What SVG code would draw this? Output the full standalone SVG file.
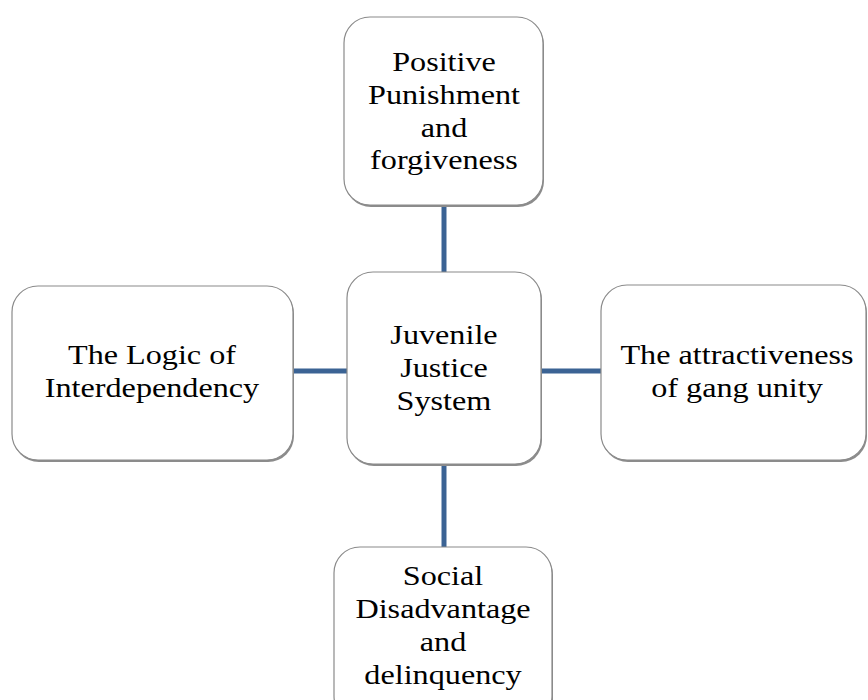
<svg xmlns="http://www.w3.org/2000/svg" width="868" height="700" viewBox="0 0 868 700">
<style>
.sh{fill:#8c8c8c;}
.box{fill:#ffffff;stroke:#8a8a8a;stroke-width:1.2;}
.lbl{font-family:"Liberation Serif","Times New Roman",serif;font-size:28px;fill:#000;text-anchor:middle;}
.con{stroke:#3b6394;stroke-width:5;fill:none;}
</style>
<rect width="868" height="700" fill="#ffffff"/>
<g id="connectors">
<line class="con" x1="444" y1="205" x2="444" y2="272"/>
<line class="con" x1="444" y1="464" x2="444" y2="547"/>
<line class="con" x1="293" y1="371" x2="347" y2="371"/>
<line class="con" x1="541" y1="371" x2="601" y2="371"/>
</g>
<g id="node-top">
<rect class="sh" x="345" y="19" width="199" height="188" rx="26"/>
<rect class="box" x="344" y="17" width="199" height="188" rx="26"/>
<g transform="matrix(1.15 0 0 1 444 0)">
<text class="lbl" x="0" y="71">Positive</text>
<text class="lbl" x="0" y="104">Punishment</text>
<text class="lbl" x="0" y="137">and</text>
<text class="lbl" x="0" y="169">forgiveness</text>
</g>
</g>
<g id="node-center">
<rect class="sh" x="348" y="274" width="194" height="192" rx="26"/>
<rect class="box" x="347" y="272" width="194" height="192" rx="26"/>
<g transform="matrix(1.15 0 0 1 444 0)">
<text class="lbl" x="0" y="344">Juvenile</text>
<text class="lbl" x="0" y="377">Justice</text>
<text class="lbl" x="0" y="410">System</text>
</g>
</g>
<g id="node-left">
<rect class="sh" x="13" y="288" width="281" height="174" rx="26"/>
<rect class="box" x="12" y="286" width="281" height="174" rx="26"/>
<g transform="matrix(1.15 0 0 1 152 0)">
<text class="lbl" x="0" y="364">The Logic of</text>
<text class="lbl" x="0" y="397">Interdependency</text>
</g>
</g>
<g id="node-right">
<rect class="sh" x="602" y="287" width="265" height="175" rx="26"/>
<rect class="box" x="601" y="285" width="265" height="175" rx="26"/>
<g transform="matrix(1.15 0 0 1 737 0)">
<text class="lbl" x="0" y="364">The attractiveness</text>
<text class="lbl" x="0" y="397">of gang unity</text>
</g>
</g>
<g id="node-bottom">
<rect class="sh" x="335" y="549" width="218" height="175" rx="26"/>
<rect class="box" x="334" y="547" width="218" height="175" rx="26"/>
<g transform="matrix(1.15 0 0 1 443 0)">
<text class="lbl" x="0" y="585">Social</text>
<text class="lbl" x="0" y="618">Disadvantage</text>
<text class="lbl" x="0" y="651">and</text>
<text class="lbl" x="0" y="684">delinquency</text>
</g>
</g>
</svg>
